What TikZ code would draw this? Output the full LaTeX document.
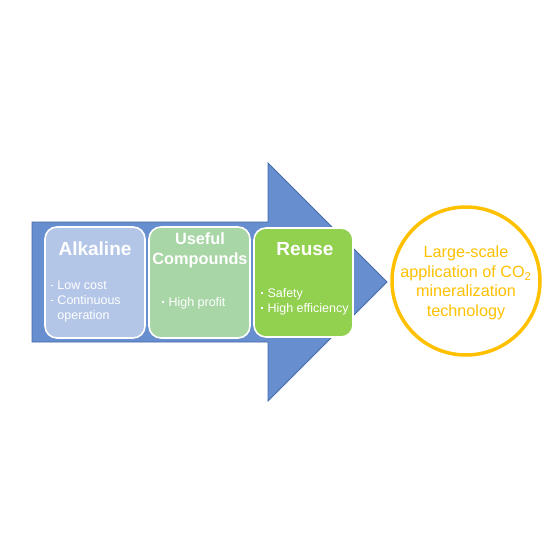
\documentclass[tikz,border=0pt]{standalone}
\usepackage{fontspec}
\setmainfont{Liberation Sans}
\definecolor{arrowblue}{RGB}{103,142,207}
\definecolor{arrowedge}{RGB}{70,105,170}
\definecolor{boxA}{RGB}{180,198,231}
\definecolor{boxB}{RGB}{168,214,166}
\definecolor{boxC}{RGB}{146,208,80}
\definecolor{ringc}{RGB}{255,192,0}
\newcommand{\bdot}{\raisebox{0.28em}{\rule{1.8pt}{1.8pt}}\hspace{4.5pt}}
\tikzset{
  card/.style={draw=white, line width=1.6pt, rounded corners=12pt},
  title/.style={text=white, font=\fontsize{19}{20}\selectfont\bfseries, align=center, inner sep=0pt},
  title2/.style={text=white, font=\fontsize{16.3}{20}\selectfont\bfseries, align=center, inner sep=0pt},
  bul/.style={text=white, font=\fontsize{12.5}{15}\selectfont, align=left, anchor=north west, inner sep=0pt},
  ringtext/.style={text=ringc, font=\fontsize{16.2}{19.5}\selectfont, align=center, inner sep=0pt}
}
\begin{document}
\begin{tikzpicture}[x=1pt,y=-1pt]
\useasboundingbox (0,0) rectangle (560,560);
% big arrow
\filldraw[fill=arrowblue, draw=arrowedge, line width=0.8pt, line join=miter]
  (32,222) -- (268,222) -- (268,163) -- (387,282) -- (268,401) -- (268,342) -- (32,342) -- cycle;
% cards
\draw[card, fill=boxA] (45,227) rectangle (145,338);
\draw[card, fill=boxB] (149,227) rectangle (250,338);
\draw[card, fill=boxC] (254,228) rectangle (353,337);
% titles
\node[title] (t1) at (95,249) {Alkaline};
\node[title2] (t2) at (200,250) {Useful\\Compounds};
\node[title] (t3) at (305,249) {Reuse};
% bullets
\node[bul] (b1) at (51,281) {\bdot Low cost\\\bdot Continuous\\\phantom{\bdot}operation};
\node[bul] (b2) at (162,297) {\bdot High profit};
\node[bul] (b3) at (261,288) {\bdot Safety\\\bdot High efficiency};
% ring
\draw[ringc, line width=3.5pt] (466,281) circle (74);
\node[ringtext] (r) at (466,283) {Large-scale\\application of CO\textsubscript{2}\\mineralization\\technology};
\end{tikzpicture}
\end{document}
